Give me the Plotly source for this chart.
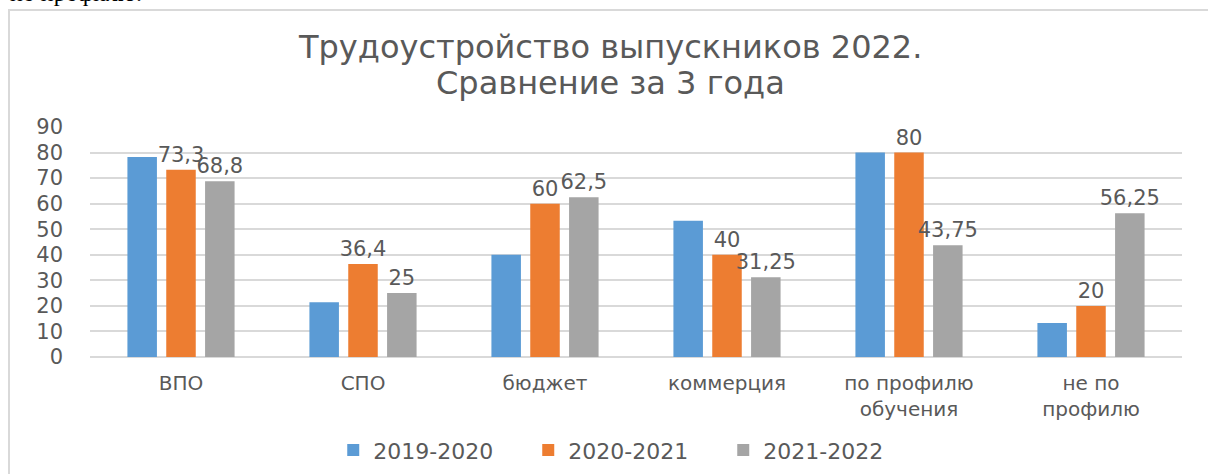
import plotly.graph_objects as go

categories = ["ВПО", "СПО", "бюджет", "коммерция", "по профилю<br>обучения", "не по<br>профилю"]
series_names = ["2019-2020", "2020-2021", "2021-2022"]
v2019 = [78.3, 21.4, 40, 53.3, 80, 13.3]
v2020 = [73.3, 36.4, 60, 40, 80, 20]
v2021 = [68.8, 25, 62.5, 31.25, 43.75, 56.25]
colors = ["#5B9BD5", "#ED7D31", "#A5A5A5"]
show_labels = [False, True, True]
y_ticks = [0, 10, 20, 30, 40, 50, 60, 70, 80, 90]
title_lines = ["Трудоустройство выпускников 2022.", "Сравнение за 3 года"]

W, H = 1208, 474
L, R, T, B = 90, 26, 127, 117
pw, ph = W - L - R, H - T - B

def px(x):
    return (x - L) / pw

def py(y):
    return (H - B - y) / ph

FONT = "DejaVu Sans"
TXT = "#595959"

fig = go.Figure()
for name, vals, col, lab in zip(series_names, [v2019, v2020, v2021], colors, show_labels):
    fig.add_trace(go.Bar(
        x=categories, y=vals, name=name,
        marker=dict(color=col, line=dict(width=0)),
        text=[str(v).replace(".", ",") for v in vals] if lab else None,
        textposition="outside" if lab else "none",
        textfont=dict(family=FONT, size=21, color=TXT),
        constraintext="none",
        cliponaxis=False,
    ))

fig.update_layout(
    width=W, height=H,
    margin=dict(l=L, r=R, t=T, b=B, autoexpand=False),
    paper_bgcolor="white", plot_bgcolor="white",
    barmode="group", bargap=0.36, bargroupgap=0.24,
    font=dict(family=FONT, color=TXT),
    showlegend=True,
    legend=dict(
        orientation="h", xref="container", x=0.518, xanchor="center",
        yref="container", y=0.05, yanchor="middle",
        font=dict(family=FONT, size=22, color=TXT),
        entrywidth=150, entrywidthmode="pixels",
        itemsizing="constant",
    ),
    xaxis=dict(
        tickfont=dict(family=FONT, size=20, color=TXT),
        showgrid=False, showline=False, ticks="", ticklabelstandoff=12,
        fixedrange=True, automargin=False,
    ),
    yaxis=dict(
        range=[0, 90], tickvals=y_ticks,
        tickfont=dict(family=FONT, size=21, color=TXT),
        showgrid=True, gridcolor="#D9D9D9", gridwidth=2,
        zeroline=True, zerolinecolor="#D9D9D9", zerolinewidth=2,
        showline=False, ticks="", ticklabelstandoff=26, automargin=False,
    ),
)

# chart frame
fig.add_shape(type="rect", xref="paper", yref="paper",
              x0=px(9), x1=px(1215), y0=py(490), y1=py(10),
              line=dict(color="#D9D9D9", width=2), layer="below")

# title (two lines)
for line, yc in zip(title_lines, [47, 83]):
    fig.add_annotation(
        text=line, xref="paper", yref="paper", x=px(610), y=py(yc),
        xanchor="center", yanchor="middle", showarrow=False,
        font=dict(family=FONT, size=32, color=TXT),
    )

# cut-off document text above the chart
fig.add_annotation(
    text="по профилю.", xref="paper", yref="paper",
    x=px(8), y=py(-7), xanchor="left", yanchor="middle", showarrow=False,
    font=dict(family="Liberation Serif", size=24, color="black"),
)

fig.write_html("out.html")
